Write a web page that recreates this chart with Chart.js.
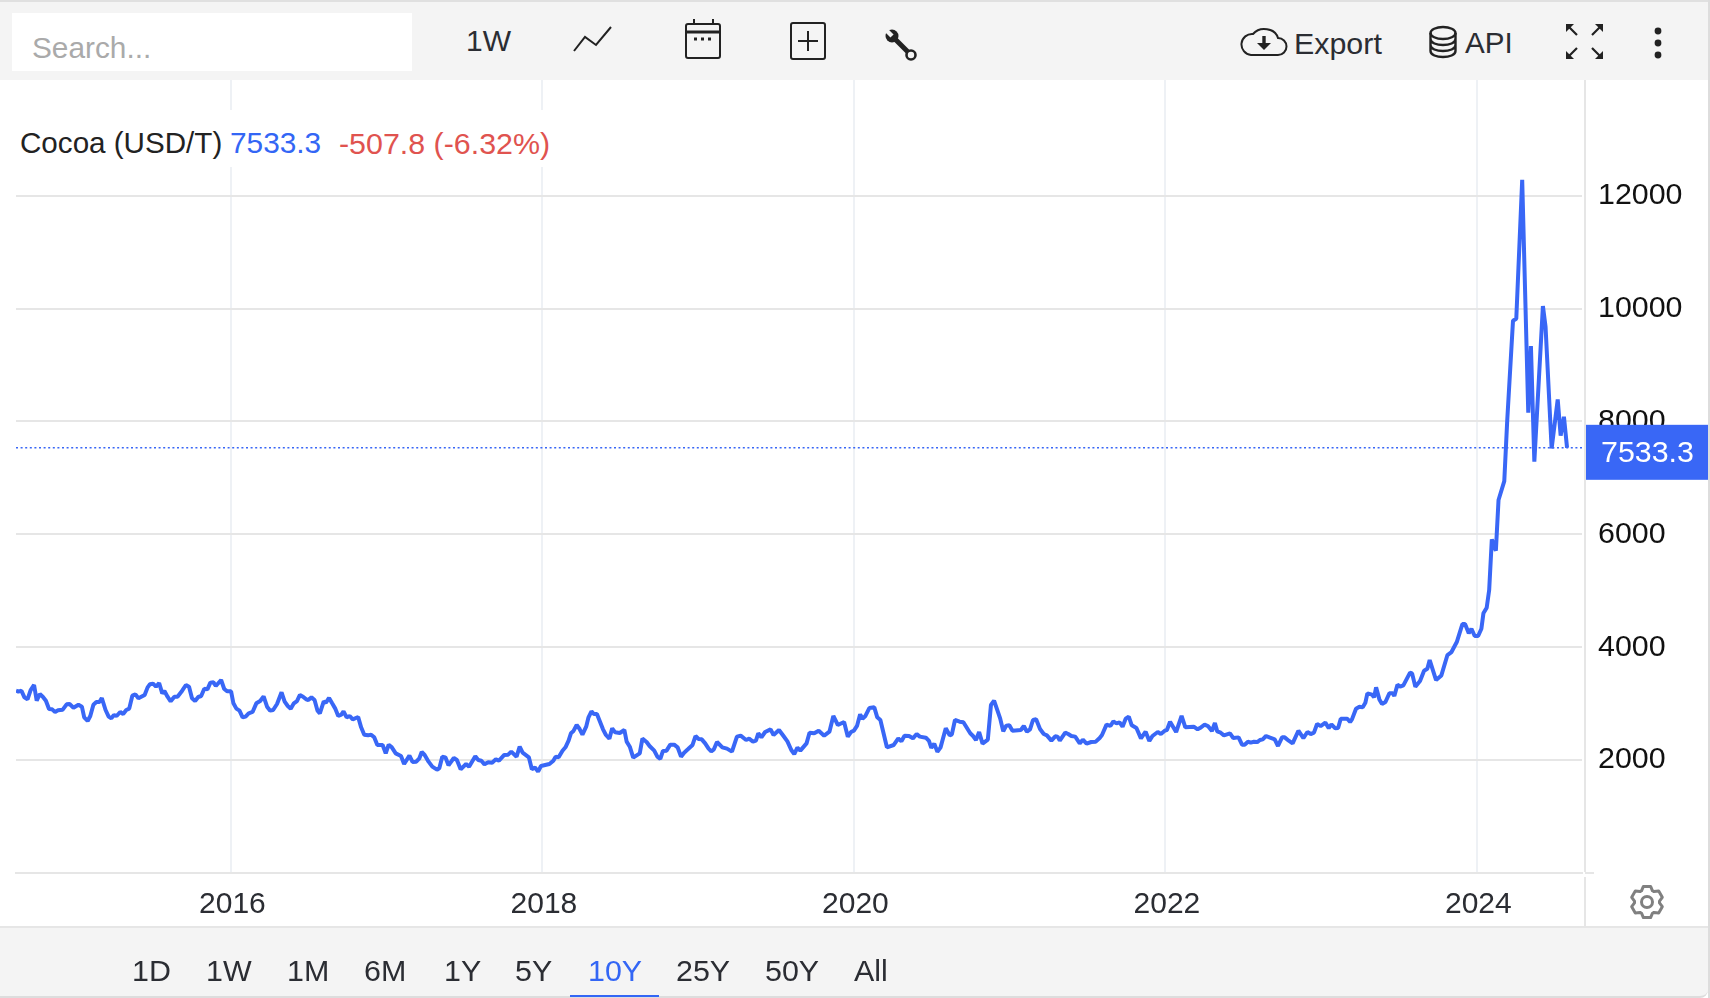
<!DOCTYPE html>
<html>
<head>
<meta charset="utf-8">
<title>Cocoa (USD/T)</title>
<script src="https://cdn.jsdelivr.net/npm/chart.js@4/dist/chart.umd.min.js"></script>
<style>
    html, body { margin: 0; padding: 0; background: #fff; }
    body { width: 1710px; height: 998px; position: relative; overflow: hidden; font-family: "Liberation Sans", Arial, sans-serif; font-size: 30.4px; color: #2b2d33; }
    .bar { position: absolute; left: 0; width: 1708px; background: #f4f4f4; }
    #top { top: 0; height: 80px; border-top: 2px solid #e0e0e0; box-sizing: border-box; }
    #bottom { top: 926px; height: 72px; border-top: 2px solid #e6e6e6; border-bottom: 2px solid #ddd; box-sizing: border-box; border-bottom-right-radius: 8px; }
    #edge { position: absolute; left: 1708px; top: 0; width: 2px; height: 998px; background: #ddd; }
    #search { position: absolute; left: 12px; top: 13px; width: 400px; height: 58px; background: #fff; color: #aaa; line-height: 70px; text-indent: 20px; font-size: 29.8px; }
    .t { position: absolute; line-height: 34px; white-space: nowrap; }
    .t.btn { top: 953px; }
    #chartCanvas { position: absolute; left: 0; top: 80px; }
    #legendBox { position: absolute; left: 16px; top: 110px; width: 544px; height: 57px; background: #fff; }
    #legendBox span { position: absolute; top: 16px; line-height: 34px; white-space: nowrap; }
    .rule { position: absolute; background: #e6e6e6; }
    svg { position: absolute; overflow: visible; }
</style>
</head>
<body>
<canvas id="chartCanvas" width="1710" height="848"></canvas>

<div id="top" class="bar"></div>
<div id="search">Search...</div>
<div class="t" style="left:466px;top:24px;font-size:30px;">1W</div>
<div class="t" style="left:1294px;top:26px;">Export</div>
<div class="t" style="left:1465px;top:26px;font-size:29.6px;">API</div>

<svg style="left:0;top:0" width="1710" height="80" fill="none" stroke="#222">
    <polyline points="574,51 585,37 596,45 611,27" stroke-width="2"/>
    <rect x="686" y="24" width="34" height="34" rx="2" stroke-width="2"/>
    <path d="M686 32H720" stroke-width="3"/>
    <path d="M694 19V24M713 19V24" stroke-width="2"/>
    <path d="M694 39H712" stroke-width="3" stroke-dasharray="3 4"/>
    <rect x="791" y="23" width="34" height="36" rx="2" stroke-width="2"/>
    <path d="M798 41H818M808 31V51" stroke-width="2"/>
    <path d="M894 38L910 54" stroke-width="5"/>
    <circle cx="892" cy="36" r="6.5" fill="#222" stroke="none"/>
    <path d="M884 28L892 36" stroke="#f4f4f4" stroke-width="4.5"/>
    <circle cx="911" cy="55" r="4.5" fill="#f4f4f4" stroke-width="2.6"/>
    <path d="M1254 55H1278a8 8 0 0 0 0-17a14 12 0 0 0-25-4a10 10 0 0 0-2 21z" stroke-width="2"/>
    <path d="M1264 36V44" stroke-width="3.4"/>
    <path d="M1257 43h14l-7 7z" fill="#222" stroke="none"/>
    <ellipse cx="1443" cy="33" rx="12.5" ry="6" stroke-width="2.4"/>
    <path d="M1430.5 33V51c0 8 25 8 25 0V33M1430.5 39c0 8 25 8 25 0M1430.5 45c0 8 25 8 25 0" stroke-width="2.4"/>
    <path d="M1567 25l10 10M1602 25l-10 10M1567 58l10-10M1602 58l-10-10" stroke-width="2.2"/>
    <path d="M1566 24h8l-8 8zM1603 24h-8l8 8zM1566 59h8l-8-8zM1603 59h-8l8-8z" fill="#222" stroke="none"/>
    <circle cx="1658" cy="31" r="3.4" fill="#222" stroke="none"/>
    <circle cx="1658" cy="43" r="3.4" fill="#222" stroke="none"/>
    <circle cx="1658" cy="55" r="3.4" fill="#222" stroke="none"/>
</svg>

<div id="legendBox">
    <span id="legendName" style="left:4px;color:#222;font-size:29.6px;"></span>
    <span id="legendLast" style="left:214px;color:#3366f5;font-size:29.8px;"></span>
    <span id="legendChange" style="left:323px;color:#e0534f;"></span>
</div>

<div class="rule" style="left:1584px;top:80px;width:2px;height:792px;"></div>
<div class="rule" style="left:1584px;top:877px;width:2px;height:50px;"></div>
<div class="rule" style="left:1585px;top:872px;width:9px;height:2px;"></div>

<svg style="left:1625px;top:880px" width="44" height="44" fill="none" stroke="#808080">
    <polygon id="gearOutline" stroke-width="3" stroke-linejoin="round"/>
    <circle cx="22" cy="22" r="5.5" stroke-width="3"/>
</svg>

<div id="bottom" class="bar"></div>
<div id="ranges"></div>
<div style="position:absolute;left:570px;top:995px;width:89px;height:2px;background:#3366f5;"></div>
<div id="edge"></div>

<script>
    var seriesName = "Cocoa (USD/T)";
    var lastLabel = "7533.3";
    var changeLabel = "-507.8 (-6.32%)";
    var rangeLabels = ["1D", "1W", "1M", "6M", "1Y", "5Y", "10Y", "25Y", "50Y", "All"];
    var activeRange = "10Y";
    var yearTicks = [2016, 2018, 2020, 2022, 2024];
    var priceTicks = [2000, 4000, 6000, 8000, 10000, 12000];
    var lastPrice = 7533.3;

    var years = [
        2014.620, 2014.635, 2014.655, 2014.674, 2014.694, 2014.714, 2014.736, 2014.753, 2014.773, 2014.792, 2014.812, 2014.832, 2014.851, 2014.871, 2014.890, 2014.920, 2014.945, 2014.964, 2014.989,
        2015.021, 2015.043, 2015.058, 2015.080, 2015.097, 2015.117, 2015.136, 2015.156, 2015.171, 2015.195, 2015.215, 2015.232, 2015.249, 2015.266, 2015.289, 2015.308, 2015.328, 2015.347, 2015.367, 2015.387, 2015.406, 2015.446, 2015.465, 2015.480, 2015.500, 2015.519, 2015.539, 2015.559, 2015.573, 2015.593, 2015.613, 2015.637, 2015.657, 2015.687, 2015.711, 2015.731, 2015.750, 2015.770, 2015.790, 2015.809, 2015.829, 2015.849, 2015.868, 2015.888, 2015.903, 2015.937, 2015.957, 2015.977,
        2016.001, 2016.016, 2016.035, 2016.055, 2016.075, 2016.094, 2016.114, 2016.139, 2016.163, 2016.188, 2016.210, 2016.232, 2016.252, 2016.271, 2016.296, 2016.325, 2016.345, 2016.365, 2016.384, 2016.404, 2016.424, 2016.443, 2016.463, 2016.483, 2016.497, 2016.517, 2016.537, 2016.556, 2016.571, 2016.596, 2016.610, 2016.630, 2016.650, 2016.669, 2016.689, 2016.709, 2016.723, 2016.743, 2016.763, 2016.782, 2016.817, 2016.836, 2016.856, 2016.881, 2016.900, 2016.920, 2016.940, 2016.974, 2016.994,
        2017.013, 2017.033, 2017.058, 2017.092, 2017.112, 2017.146, 2017.166, 2017.190, 2017.210, 2017.225, 2017.244, 2017.269, 2017.293, 2017.323, 2017.338, 2017.357, 2017.377, 2017.397, 2017.431, 2017.451, 2017.475, 2017.510, 2017.529, 2017.569, 2017.588, 2017.608, 2017.628, 2017.652, 2017.677, 2017.701, 2017.721, 2017.755, 2017.780, 2017.800, 2017.834, 2017.854, 2017.873, 2017.913, 2017.932, 2017.952, 2017.972, 2017.991,
        2018.045, 2018.070, 2018.085, 2018.104, 2018.129, 2018.148, 2018.168, 2018.183, 2018.198, 2018.220, 2018.239, 2018.257, 2018.281, 2018.296, 2018.315, 2018.330, 2018.350, 2018.389, 2018.408, 2018.430, 2018.448, 2018.467, 2018.497, 2018.526, 2018.541, 2018.561, 2018.583, 2018.625, 2018.642, 2018.669, 2018.688, 2018.718, 2018.738, 2018.757, 2018.774, 2018.797, 2018.821, 2018.846, 2018.868, 2018.890, 2018.910, 2018.934, 2018.964, 2018.983,
        2019.003, 2019.023, 2019.045, 2019.067, 2019.084, 2019.101, 2019.121, 2019.155, 2019.185, 2019.217, 2019.249, 2019.273, 2019.308, 2019.327, 2019.352, 2019.371, 2019.386, 2019.406, 2019.430, 2019.465, 2019.484, 2019.519, 2019.548, 2019.573, 2019.598, 2019.617, 2019.637, 2019.656, 2019.696, 2019.715, 2019.745, 2019.774, 2019.809, 2019.843, 2019.868, 2019.897, 2019.937, 2019.961, 2019.981,
        2020.000, 2020.020, 2020.040, 2020.055, 2020.074, 2020.099, 2020.131, 2020.150, 2020.170, 2020.212, 2020.256, 2020.285, 2020.305, 2020.325, 2020.354, 2020.379, 2020.403, 2020.423, 2020.462, 2020.482, 2020.497, 2020.516, 2020.536, 2020.556, 2020.590, 2020.615, 2020.629, 2020.649, 2020.679, 2020.703, 2020.747, 2020.765, 2020.784, 2020.804, 2020.826, 2020.860, 2020.880, 2020.900, 2020.939, 2020.959, 2020.978, 2020.998,
        2021.018, 2021.072, 2021.091, 2021.111, 2021.131, 2021.150, 2021.170, 2021.195, 2021.219, 2021.239, 2021.268, 2021.293, 2021.308, 2021.322, 2021.357, 2021.376, 2021.396, 2021.421, 2021.450, 2021.470, 2021.494, 2021.524, 2021.553, 2021.578, 2021.593, 2021.622, 2021.647, 2021.666, 2021.686, 2021.706, 2021.725, 2021.745, 2021.765, 2021.784, 2021.814, 2021.843, 2021.873, 2021.897, 2021.917, 2021.951, 2021.971, 2021.996,
        2022.010, 2022.030, 2022.069, 2022.104, 2022.128, 2022.182, 2022.207, 2022.222, 2022.252, 2022.273, 2022.299, 2022.318, 2022.333, 2022.355, 2022.376, 2022.415, 2022.436, 2022.470, 2022.492, 2022.509, 2022.530, 2022.547, 2022.569, 2022.590, 2022.607, 2022.625, 2022.646, 2022.672, 2022.702, 2022.723, 2022.749, 2022.766, 2022.792, 2022.817, 2022.854, 2022.886, 2022.912, 2022.933, 2022.954, 2022.974, 2022.997,
        2023.027, 2023.049, 2023.066, 2023.091, 2023.109, 2023.126, 2023.168, 2023.186, 2023.198, 2023.224, 2023.246, 2023.267, 2023.284, 2023.297, 2023.327, 2023.340, 2023.353, 2023.374, 2023.391, 2023.413, 2023.438, 2023.460, 2023.470, 2023.490, 2023.507, 2023.528, 2023.571, 2023.584, 2023.605, 2023.635, 2023.661, 2023.682, 2023.697, 2023.738, 2023.772, 2023.811, 2023.837, 2023.871, 2023.907, 2023.924, 2023.948, 2023.965, 2023.986,
        2024.008, 2024.029, 2024.042, 2024.063, 2024.079, 2024.096, 2024.122, 2024.139, 2024.176, 2024.195, 2024.232, 2024.253, 2024.291, 2024.330, 2024.347, 2024.369, 2024.424, 2024.441, 2024.480, 2024.519, 2024.538, 2024.559, 2024.579
    ];

    var prices = [
        3230, 3213, 3230, 3112, 3077, 3242, 3331, 3053, 3171, 3124, 3053, 2906, 2900, 2853, 2882, 2894, 2988, 2994, 2929,
        2982, 2947, 2758, 2693, 2782, 2982, 3030, 3030, 3101, 2888, 2770, 2740, 2799, 2782, 2853, 2817, 2888, 2912, 3142, 3165, 3095, 3154, 3289, 3343, 3354, 3301, 3366, 3183, 3225, 3124, 3041, 3124, 3124, 3230, 3331, 3301, 3095, 3047, 3118, 3136, 3266, 3254, 3372, 3378, 3313, 3419, 3260, 3219,
        3219, 3006, 2912, 2876, 2758, 2770, 2829, 2853, 3006, 3047, 3130, 2947, 2876, 2888, 2994, 3201, 3036, 2959, 2912, 3006, 3047, 3154, 3124, 3077, 3065, 3112, 3065, 2876, 2829, 3041, 3018, 3101, 3006, 2917, 2782, 2805, 2864, 2758, 2782, 2723, 2764, 2581, 2451, 2439, 2451, 2404, 2268, 2268, 2120,
        2274, 2227, 2120, 2073, 1931, 2079, 1967, 1973, 2032, 2144, 2091, 1973, 1884, 1831, 1855, 2061, 2049, 1908, 2038, 2002, 1837, 1931, 1884, 2067, 2002, 1990, 1925, 1961, 1955, 2014, 1990, 2091, 2097, 2150, 2061, 2238, 2132, 2049, 1837, 1872, 1796, 1896,
        1931, 1990, 2061, 2049, 2167, 2227, 2345, 2475, 2510, 2622, 2551, 2451, 2593, 2758, 2864, 2817, 2817, 2545, 2445, 2380, 2563, 2492, 2480, 2534, 2327, 2238, 2044, 2120, 2380, 2321, 2250, 2168, 2061, 2020, 2162, 2168, 2274, 2274, 2227, 2061, 2132, 2191, 2268, 2427,
        2374, 2368, 2297, 2203, 2156, 2191, 2321, 2227, 2203, 2150, 2416, 2433, 2357, 2380, 2327, 2345, 2475, 2404, 2498, 2545, 2445, 2534, 2427, 2333, 2179, 2108, 2221, 2168, 2297, 2486, 2475, 2522, 2433, 2504, 2782, 2622, 2675, 2416, 2498,
        2522, 2605, 2811, 2734, 2782, 2923, 2935, 2758, 2711, 2227, 2268, 2386, 2333, 2433, 2427, 2386, 2463, 2416, 2398, 2339, 2215, 2292, 2150, 2221, 2563, 2439, 2457, 2711, 2681, 2670, 2475, 2427, 2357, 2498, 2292, 2362, 2977, 3053, 2740, 2510, 2610, 2616,
        2522, 2534, 2605, 2504, 2545, 2711, 2723, 2551, 2463, 2439, 2345, 2421, 2416, 2345, 2486, 2463, 2427, 2416, 2297, 2362, 2292, 2321, 2327, 2392, 2445, 2628, 2605, 2687, 2652, 2670, 2593, 2734, 2770, 2616, 2569, 2386, 2504, 2339, 2427, 2498, 2463, 2522,
        2534, 2681, 2498, 2782, 2581, 2593, 2545, 2568, 2627, 2604, 2515, 2657, 2509, 2486, 2439, 2474, 2391, 2403, 2273, 2273, 2326, 2309, 2326, 2320, 2356, 2368, 2427, 2397, 2368, 2250, 2403, 2403, 2344, 2297, 2521, 2391, 2498, 2462, 2486, 2639, 2604,
        2663, 2568, 2633, 2563, 2568, 2734, 2734, 2675, 2722, 2911, 2946, 2935, 3017, 3183, 3159, 3112, 3289, 3076, 2994, 3029, 3183, 3183, 3135, 3336, 3301, 3324, 3549, 3537, 3301, 3401, 3584, 3620, 3773, 3419, 3501, 3862, 3915, 4092, 4411, 4411, 4246, 4328, 4198,
        4198, 4328, 4600, 4700, 5013, 5911, 5710, 6608, 6944, 8025, 9785, 9820, 12280, 8155, 9336, 7287, 10045, 9678, 7523, 8391, 7748, 8084, 7533.3
    ];

    var chartFont = '"Liberation Sans", Arial, sans-serif';
    var lineBlue = "#3967f6";

    document.getElementById("legendName").textContent = seriesName;
    document.getElementById("legendLast").textContent = lastLabel;
    document.getElementById("legendChange").textContent = changeLabel;

    // range buttons under the chart, left edge of each label
    var rangeLefts = [132, 206, 287, 364, 444, 515, 588, 676, 765, 854];
    rangeLabels.forEach(function (label, i) {
        var el = document.createElement("div");
        el.className = "t btn";
        el.style.left = rangeLefts[i] + "px";
        el.style.color = label === activeRange ? "#3366f5" : "#2b2d33";
        el.textContent = label;
        document.getElementById("ranges").appendChild(el);
    });

    // six teeth for the settings gear
    var gearPoints = [];
    for (var tooth = 0; tooth < 6; tooth++) {
        [[-26, 12.5], [-13, 16], [13, 16], [26, 12.5]].forEach(function (p) {
            var angle = (tooth * 60 - 90 + p[0]) * Math.PI / 180;
            gearPoints.push((22 + p[1] * Math.cos(angle)).toFixed(1) + "," + (22 + p[1] * Math.sin(angle)).toFixed(1));
        });
    }
    document.getElementById("gearOutline").setAttribute("points", gearPoints.join(" "));

    // the blue box with the last price, sits on the right axis
    var lastPriceTag = {
        id: "lastPriceTag",
        afterDraw: function (chart) {
            var ctx = chart.ctx;
            var py = chart.scales.y.getPixelForValue(lastPrice);
            ctx.save();
            ctx.fillStyle = lineBlue;
            ctx.fillRect(chart.chartArea.right + 4, py - 23, 122, 55);
            ctx.fillStyle = "#fff";
            ctx.font = "30.4px " + chartFont;
            ctx.textBaseline = "middle";
            ctx.fillText(lastLabel, chart.chartArea.right + 19, py + 6);
            ctx.restore();
        }
    };

    var points = years.map(function (year, i) {
        return {x: year, y: prices[i]};
    });

    var xMin = 2014.62;
    var xMax = 2024.675;

    new Chart(document.getElementById("chartCanvas").getContext("2d"), {
        type: "line",
        data: {
            datasets: [{
                data: points,
                borderColor: lineBlue,
                borderWidth: 4,
                borderJoinStyle: "bevel",
                pointRadius: 0,
                tension: 0
            }, {
                data: [{x: xMin, y: lastPrice}, {x: xMax, y: lastPrice}],
                borderColor: lineBlue,
                borderWidth: 1.6,
                borderDash: [2, 2.6],
                pointRadius: 0
            }]
        },
        options: {
            responsive: false,
            animation: false,
            events: [],
            layout: {autoPadding: false, padding: {left: 16}},
            plugins: {legend: {display: false}, tooltip: {enabled: false}},
            scales: {
                x: {
                    type: "linear",
                    min: xMin,
                    max: xMax,
                    afterBuildTicks: function (scale) {
                        scale.ticks = yearTicks.map(function (v) { return {value: v}; });
                    },
                    afterFit: function (scale) {
                        scale.height = 55;
                        scale.paddingLeft = 0;
                        scale.paddingRight = 0;
                    },
                    grid: {color: "#eef1f5", lineWidth: 2, drawTicks: false},
                    border: {display: true, color: "#e6e6e6", width: 2},
                    ticks: {
                        autoSkip: false,
                        maxRotation: 0,
                        padding: 14,
                        labelOffset: 1.5,
                        color: "#2b2d33",
                        font: {family: chartFont, size: 30},
                        callback: function (v) { return String(v); }
                    }
                },
                y: {
                    position: "right",
                    min: 0,
                    max: 14050,
                    afterBuildTicks: function (scale) {
                        scale.ticks = priceTicks.map(function (v) { return {value: v}; });
                    },
                    afterFit: function (scale) {
                        scale.width = 128;
                        scale.paddingTop = 0;
                        scale.paddingBottom = 0;
                    },
                    grid: {color: "#e6e6e6", lineWidth: 2, drawTicks: false},
                    border: {display: false},
                    ticks: {
                        autoSkip: false,
                        padding: 16,
                        color: "#111",
                        font: {family: chartFont, size: 30.4},
                        callback: function (v) { return String(v); }
                    }
                }
            }
        },
        plugins: [lastPriceTag]
    });
</script>
</body>
</html>
